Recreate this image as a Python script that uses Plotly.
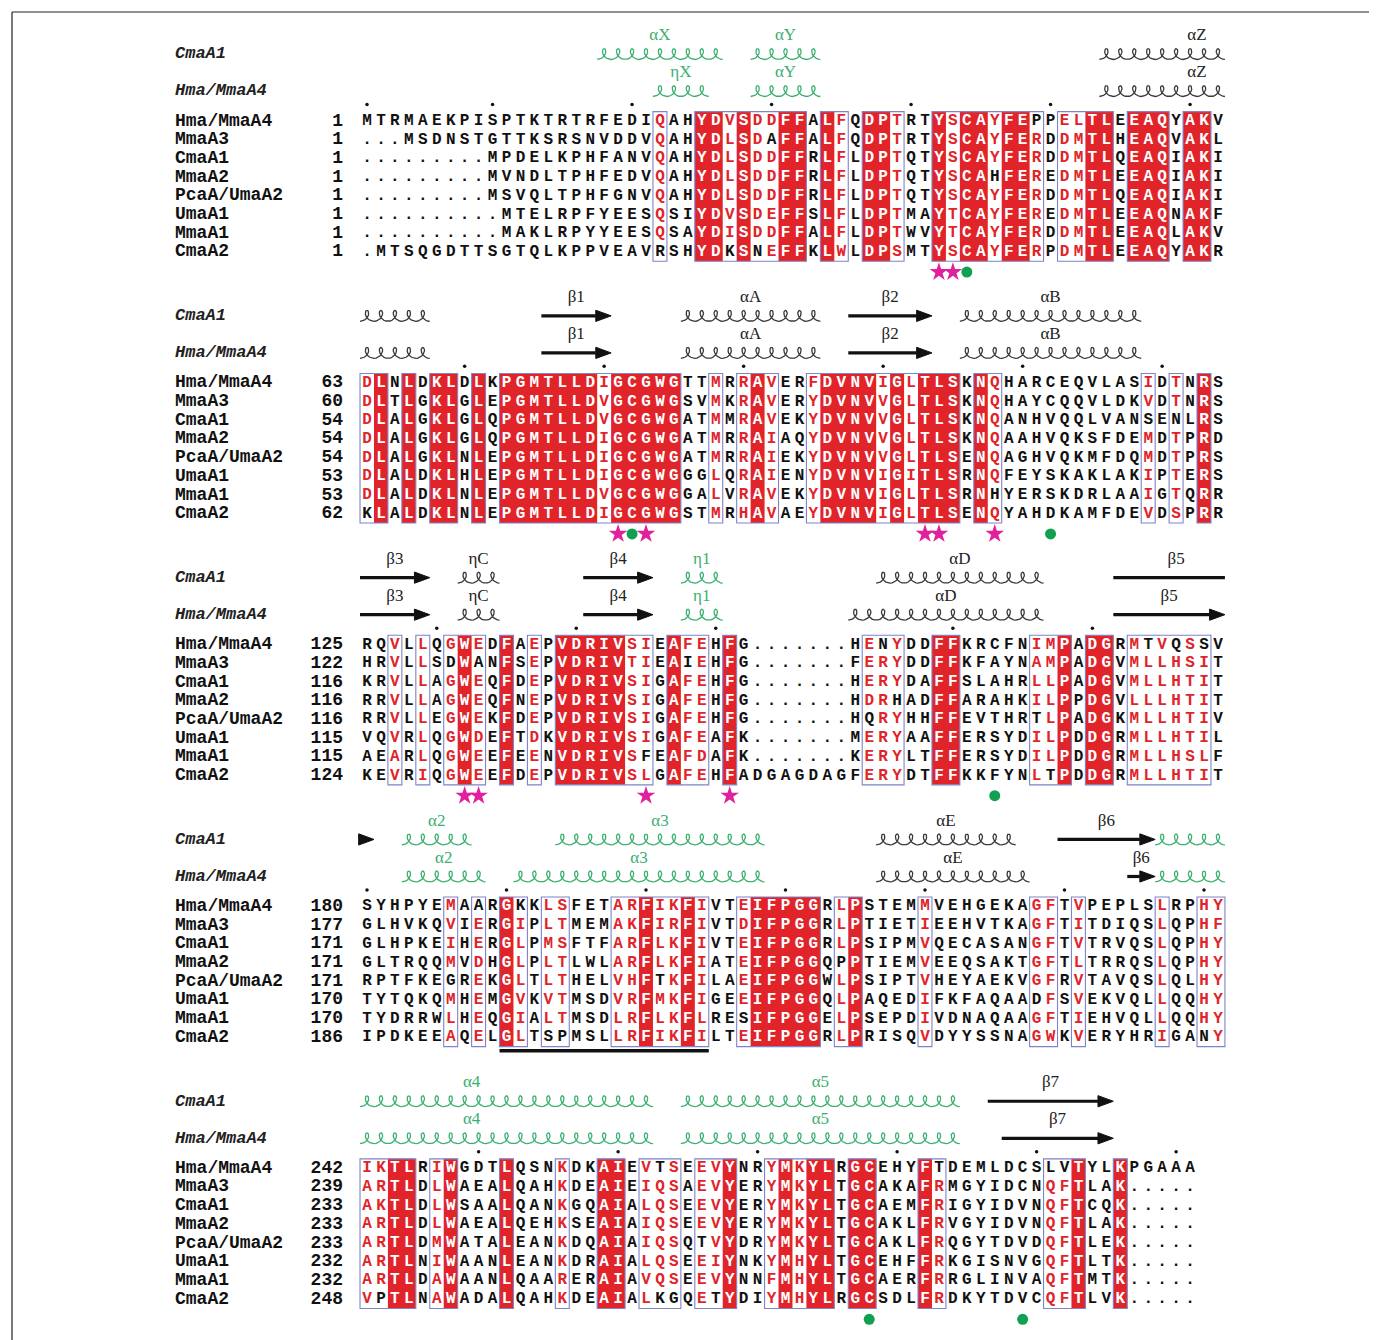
import math
import plotly.graph_objects as go

# ---------------- data ----------------
NAMES = ["Hma/MmaA4", "MmaA3", "CmaA1", "MmaA2", "PcaA/UmaA2", "UmaA1", "MmaA1", "CmaA2"]

SEQ_1 = [
    "MTRMAEKPISPTKTRTRFEDIQAHYDVSDDFFALFQDPTRTYSCAYFEPPELTLEEAQYAKV",
    "...MSDNSTGTTKSRSNVDDVQAHYDLSDAFFALFQDPTRTYSCAYFERDDMTLHEAQVAKL",
    ".........MPDELKPHFANVQAHYDLSDDFFRLFLDPTQTYSCAYFERDDMTLQEAQIAKI",
    ".........MVNDLTPHFEDVQAHYDLSDDFFRLFLDPTQTYSCAHFEREDMTLEEAQIAKI",
    ".........MSVQLTPHFGNVQAHYDLSDDFFRLFLDPTQTYSCAYFERDDMTLQEAQIAKI",
    "..........MTELRPFYEESQSIYDVSDEFFSLFLDPTMAYTCAYFEREDMTLEEAQNAKF",
    "..........MAKLRPYYEESQSAYDISDDFFALFLDPTWVYTCAYFERDDMTLEEAQLAKV",
    ".MTSQGDTTSGTQLKPPVEAVRSHYDKSNEFFKLWLDPSMTYSCAYFERPDMTLEEAQYAKR",
]
SEQ_2 = [
    "DLNLDKLDLKPGMTLLDIGCGWGTTMRRAVERFDVNVIGLTLSKNQHARCEQVLASIDTNRS",
    "DLTLGKLGLEPGMTLLDVGCGWGSVMKRAVERYDVNVVGLTLSKNQHAYCQQVLDKVDTNRS",
    "DLALGKLGLQPGMTLLDVGCGWGATMMRAVEKYDVNVVGLTLSKNQANHVQQLVANSENLRS",
    "DLALGKLGLQPGMTLLDIGCGWGATMRRAIAQYDVNVVGLTLSKNQAAHVQKSFDEMDTPRD",
    "DLALGKLNLEPGMTLLDIGCGWGATMRRAIEKYDVNVVGLTLSENQAGHVQKMFDQMDTPRS",
    "DLALDKLHLEPGMTLLDIGCGWGGGLQRAIENYDVNVIGITLSRNQFEYSKAKLAKIPTERS",
    "DLALDKLNLEPGMTLLDVGCGWGGALVRAVEKYDVNVIGLTLSRNHYERSKDRLAAIGTQRR",
    "KLALDKLNLEPGMTLLDIGCGWGSTMRHAVAEYDVNVIGLTLSENQYAHDKAMFDEVDSPRR",
]
SEQ_3 = [
    "RQVLLQGWEDFAEPVDRIVSIEAFEHFG.......HENYDDFFKRCFNIMPADGRMTVQSSV",
    "HRVLLSDWANFSEPVDRIVTIEAIEHFG.......FERYDDFFKFAYNAMPADGVMLLHSIT",
    "KRVLLAGWEQFDEPVDRIVSIGAFEHFG.......HERYDAFFSLAHRLLPADGVMLLHTIT",
    "RRVLLAGWEQFNEPVDRIVSIGAFEHFG.......HDRHADFFARAHKILPPDGVLLLHTIT",
    "RRVLLEGWEKFDEPVDRIVSIGAFEHFG.......HQRYHHFFEVTHRTLPADGKMLLHTIV",
    "VQVRLQGWDEFTDKVDRIVSIGAFEAFK.......MERYAAFFERSYDILPDDGRMLLHTIL",
    "AEARLQGWEEFEENVDRIVSFEAFDAFK.......KERYLTFFERSYDILPDDGRMLLHSLF",
    "KEVRIQGWEEFDEPVDRIVSLGAFEHFADGAGDAGFERYDTFFKKFYNLTPDDGRMLLHTIT",
]
SEQ_4 = [
    "SYHPYEMAARGKKLSFETARFIKFIVTEIFPGGRLPSTEMMVEHGEKAGFTVPEPLSLRPHY",
    "GLHVKQVIERGIPLTMEMAKFIRFIVTDIFPGGRLPTIETIEEHVTKAGFTITDIQSLQPHF",
    "GLHPKEIHERGLPMSFTFARFLKFIVTEIFPGGRLPSIPMVQECASANGFTVTRVQSLQPHY",
    "GLTRQQMVDHGLPLTLWLARFLKFIATEIFPGGQPPTIEMVEEQSAKTGFTLTRRQSLQPHY",
    "RPTFKEGREKGLTLTHELVHFTKFILAEIFPGGWLPSIPTVHEYAEKVGFRVTAVQSLQLHY",
    "TYTQKQMHEMGVKVTMSDVRFMKFIGEEIFPGGQLPAQEDIFKFAQAADFSVEKVQLLQQHY",
    "TYDRRWLHEQGIALTMSDLRFLKFLRESIFPGGELPSEPDIVDNAQAAGFTIEHVQLLQQHY",
    "IPDKEEAQELGLTSPMSLLRFIKFILTEIFPGGRLPRISQVDYYSSNAGWKVERYHRIGANY",
]
SEQ_5 = [
    "IKTLRIWGDTLQSNKDKAIEVTSEEVYNRYMKYLRGCEHYFTDEMLDCSLVTYLKPGAAA",
    "ARTLDLWAEALQAHKDEAIEIQSAEVYERYMKYLTGCAKAFRMGYIDCNQFTLAK.....",
    "AKTLDLWSAALQANKGQAIALQSEEVYERYMKYLTGCAEMFRIGYIDVNQFTCQK.....",
    "ARTLDLWAEALQEHKSEAIAIQSEEVYERYMKYLTGCAKLFRVGYIDVNQFTLAK.....",
    "ARTLDMWATALEANKDQAIAIQSQTVYDRYMKYLTGCAKLFRQGYTDVDQFTLEK.....",
    "ARTLNIWAANLEANKDRAIALQSEEIYNKYMHYLTGCEHFFRKGISNVGQFTLTK.....",
    "ARTLDAWAANLQAARERAIAVQSEEVYNNFMHYLTGCAERFRRGLINVAQFTMTK.....",
    "VPTLNAWADALQAHKDEAIALKGQETYDIYMHYLRGCSDLFRDKYTDVCQFTLVK.....",
]

START_1 = [1, 1, 1, 1, 1, 1, 1, 1]
START_2 = [63, 60, 54, 54, 54, 53, 53, 62]
START_3 = [125, 122, 116, 116, 116, 115, 115, 124]
START_4 = [180, 177, 171, 171, 171, 170, 170, 186]
START_5 = [242, 239, 233, 233, 233, 232, 232, 248]

# column ranges (inclusive) of conserved/similar columns (boxed)
BOX_1 = [(21, 21), (24, 31), (33, 34), (36, 38), (41, 48), (50, 53), (55, 57), (59, 60)]
BOX_2 = [(0, 1), (3, 3), (5, 6), (8, 8), (10, 22), (25, 25), (27, 29), (32, 42), (44, 45),
         (56, 56), (58, 58), (60, 60)]
BOX_3 = [(2, 2), (4, 4), (6, 8), (10, 10), (12, 12), (14, 20), (22, 24), (26, 26), (36, 38),
         (41, 42), (48, 50), (52, 53), (55, 60)]
BOX_4 = [(6, 6), (8, 8), (10, 11), (13, 14), (18, 24), (27, 32), (34, 35), (40, 40), (48, 49),
         (51, 51), (57, 57), (60, 61)]
BOX_5 = [(0, 3), (5, 6), (10, 10), (14, 14), (17, 18), (20, 22), (24, 26), (29, 33), (35, 36),
         (40, 41), (49, 51), (54, 54)]

# functional-site markers: (block, column, kind)
MARKS = [
    (0, 41, "star"), (0, 42, "star"), (0, 43, "dot"),
    (1, 18, "star"), (1, 19, "dot"), (1, 20, "star"), (1, 40, "star"), (1, 41, "star"),
    (1, 45, "star"), (1, 49, "dot"),
    (2, 7, "star"), (2, 8, "star"), (2, 20, "star"), (2, 26, "star"), (2, 45, "dot"),
    (4, 36, "dot"), (4, 47, "dot"),
]
UNDERLINE = [(3, 10, 24)]
EXTRA_RULER = [(0, 0)]

# secondary structure: (label, block_start, col_start, block_end, col_end, type, group)
SS_CMAA1 = [
    ("αX", 0, 17, 0, 25, "helix", "extra"), ("αY", 0, 28, 0, 32, "helix", "extra"),
    ("αZ", 0, 53, 1, 4, "helix", "core"), ("β1", 1, 13, 1, 17, "strand", "core"),
    ("αA", 1, 23, 1, 32, "helix", "core"), ("β2", 1, 35, 1, 40, "strand", "core"),
    ("αB", 1, 43, 1, 55, "helix", "core"), ("β3", 2, 0, 2, 4, "strand", "core"),
    ("ηC", 2, 7, 2, 9, "helix", "core"), ("β4", 2, 16, 2, 20, "strand", "core"),
    ("η1", 2, 23, 2, 25, "helix", "extra"), ("αD", 2, 37, 2, 48, "helix", "core"),
    ("β5", 2, 54, 3, 0, "strand", "core"), ("α2", 3, 3, 3, 7, "helix", "extra"),
    ("α3", 3, 14, 3, 28, "helix", "extra"), ("αE", 3, 37, 3, 46, "helix", "core"),
    ("β6", 3, 50, 3, 56, "strand", "core"), ("α4", 3, 57, 4, 20, "helix", "extra"),
    ("α5", 4, 23, 4, 42, "helix", "extra"), ("β7", 4, 45, 4, 53, "strand", "core"),
]
SS_HMA = [
    ("ηX", 0, 21, 0, 24, "helix", "extra"), ("αY", 0, 28, 0, 32, "helix", "extra"),
    ("αZ", 0, 53, 1, 4, "helix", "core"), ("β1", 1, 13, 1, 17, "strand", "core"),
    ("αA", 1, 23, 1, 32, "helix", "core"), ("β2", 1, 35, 1, 40, "strand", "core"),
    ("αB", 1, 43, 1, 55, "helix", "core"), ("β3", 2, 0, 2, 4, "strand", "core"),
    ("ηC", 2, 7, 2, 9, "helix", "core"), ("β4", 2, 16, 2, 20, "strand", "core"),
    ("η1", 2, 23, 2, 25, "helix", "extra"), ("αD", 2, 35, 2, 48, "helix", "core"),
    ("β5", 2, 54, 2, 61, "strand", "core"), ("α2", 3, 3, 3, 8, "helix", "extra"),
    ("α3", 3, 11, 3, 28, "helix", "extra"), ("αE", 3, 37, 3, 47, "helix", "core"),
    ("β6", 3, 55, 3, 56, "strand", "core"), ("α4", 3, 57, 4, 20, "helix", "extra"),
    ("α5", 4, 23, 4, 42, "helix", "extra"), ("β7", 4, 46, 4, 53, "strand", "core"),
]

SEQ_BLOCKS = [SEQ_1, SEQ_2, SEQ_3, SEQ_4, SEQ_5]
START_BLOCKS = [START_1, START_2, START_3, START_4, START_5]
BOX_BLOCKS = [BOX_1, BOX_2, BOX_3, BOX_4, BOX_5]

for b, seqs in enumerate(SEQ_BLOCKS):
    n = len(seqs[0])
    assert all(len(s) == n for s in seqs), (b, [len(s) for s in seqs])
    if b + 1 < len(SEQ_BLOCKS):
        for r in range(8):
            cnt = sum(1 for ch in seqs[r] if ch != ".")
            assert START_BLOCKS[b][r] + cnt == START_BLOCKS[b + 1][r], (b, r)

# ---------------- layout constants ----------------
PAGE_OFF = 8                # default page margin of the html body
W, H = 1377 - PAGE_OFF, 1340 - PAGE_OFF
PX, PY = 13.95, 18.7        # pixels per column / per row
X0, Y0 = 367 - PAGE_OFF, 121 - PAGE_OFF   # pixel position of column 0 / first sequence row
BLOCK_ROWS = 14
BW = 62                     # nominal block width (columns)
RED = "#e0242a"
BOXC = "#7e84c8"
GREEN = "#3bb070"
DARK = "#3a3a3a"
MONO = "Liberation Mono"
SERIF = "Liberation Serif"

GROUPS = ["ILVMA", "FYW", "DE", "NQ", "KRH", "ST", "G", "P", "C"]


def grp(ch):
    for g in GROUPS:
        if ch in g:
            return g
    return ch


def Y(b, r):
    return b * BLOCK_ROWS + r


shapes = []
txt = {"black": ([], [], []), "red": ([], [], []), "white": ([], [], [])}
name_x, name_y, name_t = [], [], []
num_x, num_y, num_t = [], [], []
dot_x, dot_y = [], []

NAME_X = (175 - PAGE_OFF - X0) / PX
NUM_X = (343 - PAGE_OFF - X0) / PX

for b, seqs in enumerate(SEQ_BLOCKS):
    n = len(seqs[0])
    boxed = set()
    for s, e in BOX_BLOCKS[b]:
        boxed.update(range(s, e + 1))
        shapes.append(dict(type="rect", xref="x", yref="y", x0=s - 0.5, x1=e + 0.5,
                           y0=Y(b, -0.5), y1=Y(b, 7.5), line=dict(color=BOXC, width=1.1),
                           layer="above"))
    ident = [c for c in range(n) if c in boxed and len(set(s[c] for s in seqs)) == 1]
    runs = []
    for c in ident:
        if runs and runs[-1][1] == c - 1:
            runs[-1][1] = c
        else:
            runs.append([c, c])
    for s, e in runs:
        shapes.append(dict(type="rect", xref="x", yref="y", x0=s - 0.5, x1=e + 0.5,
                           y0=Y(b, -0.5), y1=Y(b, 7.5), fillcolor=RED, line=dict(width=0),
                           layer="below"))
    for c in range(n):
        col = [s[c] for s in seqs]
        maj = None
        if c in boxed:
            counts = {}
            for ch in col:
                counts[grp(ch)] = counts.get(grp(ch), 0) + 1
            maj = max(counts, key=counts.get)
        for r, ch in enumerate(col):
            if c in ident:
                key = "white"
            elif maj is not None and grp(ch) == maj:
                key = "red"
            else:
                key = "black"
            txt[key][0].append(c)
            txt[key][1].append(Y(b, r))
            txt[key][2].append(ch)
    for r in range(8):
        name_x.append(NAME_X); name_y.append(Y(b, r)); name_t.append(NAMES[r])
        num_x.append(NUM_X); num_y.append(Y(b, r)); num_t.append(str(START_BLOCKS[b][r]))
    # ruler dots every 10 residues of the top sequence
    num = START_BLOCKS[b][0] - 1
    for c, ch in enumerate(seqs[0]):
        if ch != ".":
            num += 1
            if num % 10 == 0:
                dot_x.append(c); dot_y.append(Y(b, -0.88))
for b, c in EXTRA_RULER:
    dot_x.append(c); dot_y.append(Y(b, -0.88))

fig = go.Figure()

for key, color in (("black", "#111111"), ("red", RED), ("white", "white")):
    xs, ys, ts = txt[key]
    fig.add_trace(go.Scatter(x=xs, y=ys, text=ts, mode="text", hoverinfo="skip",
                             textfont=dict(family=MONO, size=16, color=color, weight="bold"),
                             showlegend=False))

fig.add_trace(go.Scatter(x=name_x, y=name_y, text=name_t, mode="text", textposition="middle right",
                         textfont=dict(family=MONO, size=18, color="#111", weight="bold"),
                         hoverinfo="skip", showlegend=False))
fig.add_trace(go.Scatter(x=num_x, y=num_y, text=num_t, mode="text", textposition="middle left",
                         textfont=dict(family=MONO, size=18, color="#111", weight="bold"),
                         hoverinfo="skip", showlegend=False))
fig.add_trace(go.Scatter(x=dot_x, y=dot_y, mode="markers", hoverinfo="skip", showlegend=False,
                         marker=dict(size=3.5, color="#111")))

# ---------------- secondary structure ----------------
def block_len(b):
    return len(SEQ_BLOCKS[b][0])


helix_lines = {"extra": ([], []), "core": ([], [])}
shaft_x, shaft_y = [], []
head_x, head_y = [], []
lab = {"extra": ([], [], []), "core": ([], [], [])}
row_lab_x, row_lab_y, row_lab_t = [], [], []
HL, HW = 1.1, 0.3

for ss, y_glyph, y_lab, rowname in ((SS_CMAA1, -3.58, -4.55, "CmaA1"), (SS_HMA, -1.6, -2.57, "Hma/MmaA4")):
    for b in range(len(SEQ_BLOCKS)):
        row_lab_x.append(NAME_X); row_lab_y.append(Y(b, y_glyph)); row_lab_t.append(rowname)
    for label, b0, c0, b1, c1, kind, group in ss:
        for b in range(b0, b1 + 1):
            s = c0 if b == b0 else 0
            e = c1 if b == b1 else block_len(b) - 1
            yc = Y(b, y_glyph)
            if kind == "helix":
                hx, hy = helix_lines[group]
                steps = 20
                for i in range((e - s + 1) * steps + 1):
                    t = s - 0.5 + i / steps
                    ph = 2 * math.pi * (t - s)
                    hx.append(t - 0.33 * math.sin(ph))
                    hy.append(yc - 0.29 * math.cos(ph))
                hx.append(None); hy.append(None)
            else:
                x0, x1 = s - 0.5, e + 0.5
                has_head = (b == b1)
                end = x1 - HL if has_head else x1
                if end > x0:
                    shaft_x.extend([x0, end, None]); shaft_y.extend([yc, yc, None])
                if has_head:
                    head_x.extend([x1 - HL, x1, x1 - HL, x1 - HL, None])
                    head_y.extend([yc - HW, yc, yc + HW, yc - HW, None])
        if label:
            g0 = b0 * BW + c0
            g1 = b1 * BW + c1
            gc = (g0 + g1) / 2
            lb = int(gc // BW)
            lc = gc - lb * BW
            lx, ly, lt = lab[group]
            lx.append(lc); ly.append(Y(lb, y_lab)); lt.append(label)

for group, color in (("core", DARK), ("extra", GREEN)):
    hx, hy = helix_lines[group]
    fig.add_trace(go.Scatter(x=hx, y=hy, mode="lines", line=dict(color=color, width=1.3),
                             hoverinfo="skip", showlegend=False))
    lx, ly, lt = lab[group]
    fig.add_trace(go.Scatter(x=lx, y=ly, text=lt, mode="text", hoverinfo="skip", showlegend=False,
                             textfont=dict(family=SERIF, size=17,
                                           color=(GREEN if group == "extra" else "#222"))))

fig.add_trace(go.Scatter(x=shaft_x, y=shaft_y, mode="lines", line=dict(color="#111", width=3.2),
                         hoverinfo="skip", showlegend=False))
fig.add_trace(go.Scatter(x=head_x, y=head_y, mode="lines", fill="toself", fillcolor="#111",
                         line=dict(color="#111", width=1), hoverinfo="skip", showlegend=False))
fig.add_trace(go.Scatter(x=row_lab_x, y=row_lab_y, text=row_lab_t, mode="text",
                         textposition="middle right", hoverinfo="skip", showlegend=False,
                         textfont=dict(family=MONO, size=17, color="#222", weight="bold",
                                       style="italic")))

# markers
sx = [c for b, c, k in MARKS if k == "star"]
sy = [Y(b, 8.08) for b, c, k in MARKS if k == "star"]
ox = [c for b, c, k in MARKS if k == "dot"]
oy = [Y(b, 8.08) for b, c, k in MARKS if k == "dot"]
fig.add_trace(go.Scatter(x=sx, y=sy, mode="markers", hoverinfo="skip", showlegend=False,
                         marker=dict(symbol="star", size=14, color="#e0209c", line=dict(width=0))))
fig.add_trace(go.Scatter(x=ox, y=oy, mode="markers", hoverinfo="skip", showlegend=False,
                         marker=dict(symbol="circle", size=11, color="#10a050", line=dict(width=0))))
for b, s, e in UNDERLINE:
    fig.add_trace(go.Scatter(x=[s - 0.5, e + 0.5], y=[Y(b, 7.72), Y(b, 7.72)], mode="lines",
                             line=dict(color="#111", width=3.5), hoverinfo="skip", showlegend=False))

# frame
FR = 12 - PAGE_OFF
shapes.append(dict(type="line", xref="paper", yref="paper", x0=FR / W, x1=1.0,
                   y0=1 - FR / H, y1=1 - FR / H, line=dict(color="#222", width=1.2)))
shapes.append(dict(type="line", xref="paper", yref="paper", x0=FR / W, x1=FR / W,
                   y0=1 - FR / H, y1=0, line=dict(color="#222", width=1.2)))

fig.update_layout(
    width=W, height=H, margin=dict(l=0, r=0, t=0, b=0),
    paper_bgcolor="white", plot_bgcolor="white", shapes=shapes,
    xaxis=dict(range=[-X0 / PX, (W - X0) / PX], visible=False, fixedrange=True),
    yaxis=dict(range=[(H - Y0) / PY, -Y0 / PY], visible=False, fixedrange=True),
)

fig.write_html("out.html")
